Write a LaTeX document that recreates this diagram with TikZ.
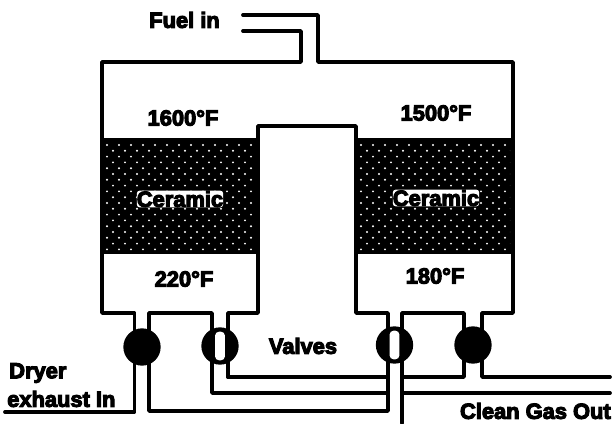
\documentclass[tikz,border=0pt]{standalone}
\usepackage{fontspec}
\setmainfont{Liberation Sans}[BoldFont={Liberation Sans Bold},BoldFeatures={FakeBold=5}]
\tikzset{
  wall/.style={line width=2.8pt,line join=round,line cap=round,black},
  lbl/.style={font=\fontsize{16.4}{16.4}\selectfont\bfseries,inner sep=0pt,text=black},
  valve/.style={circle,fill=black,minimum size=28pt,inner sep=0pt},
  slot/.style={rectangle,rounded corners=3pt,fill=white,minimum width=7.4pt,minimum height=21.5pt,inner sep=0pt},
  ceram/.style={fill=black},
  spot/.style={fill=white},
  halo/.style={lbl,fill=white,rounded corners=2pt,inner xsep=0pt,inner ysep=0.2pt}
}
\begin{document}
\begin{tikzpicture}[x=0.75pt,y=-0.75pt]
\useasboundingbox (0,0) rectangle (614,424);
\fill[white] (0,0) rectangle (614,424);
% ceramic beds
\foreach \xa/\xb in {102/258,356/513}{
  \fill[ceram] (\xa,138) rectangle (\xb,254);
  \begin{scope}
    \clip (\xa+3,141) rectangle (\xb-3,251);
    \foreach \r in {0,...,18}{
      \pgfmathsetmacro{\off}{mod(\r,2)*6}
      \foreach \c in {0,...,13}{
        \fill[spot] ({\xa+5+\off+\c*12},{145+\r*5.8}) circle (0.8pt);
      }
    }
  \end{scope}
}
% walls
\coordinate (fuelA) at (243,31);
\coordinate (fuelB) at (243,15);
\coordinate (dryer) at (5,412);
\coordinate (outA) at (610,377);
\coordinate (outB) at (610,393);
\coordinate (tail) at (402,423);
\draw[wall] (dryer) -- (134.5,412) -- (134.5,313) -- (102,313) -- (102,62) -- (301,62) -- (301,31) -- (fuelA);
\draw[wall] (fuelB) -- (318,15) -- (318,62) -- (513,62) -- (513,313) -- (482,313) -- (482,377) -- (outA);
\draw[wall] (228,377) -- (228,313) -- (258,313) -- (258,126) -- (356,126) -- (356,313) -- (388,313) -- (388,411) -- (149,411) -- (149,313) -- (212,313) -- (212,393) -- (388,393);
\draw[wall] (228,377) -- (388,377);
\draw[wall] (tail) -- (402,313) -- (464,313) -- (464,377) -- (402,377);
\draw[wall] (402,393) -- (outB);
% valves
\node[valve] (v1) at (142,347) {};
\node[valve] (v2) at (220,346) {};
\node[valve] (v3) at (394.5,345) {};
\node[valve] (v4) at (473,345) {};
\node[slot] (s2) at (220,346) {};
\node[slot] (s3) at (394.5,345) {};
% labels
\node[lbl] (fuel) at (184.5,20) {Fuel in};
\node[lbl] (t1) at (183,118) {1600°F};
\node[lbl] (t2) at (436,113) {1500°F};
\node[halo] (c1) at (180,199) {Ceramic};
\node[halo] (c2) at (436,198) {Ceramic};
\node[lbl] (t3) at (184,279) {220°F};
\node[lbl] (t4) at (435,276) {180°F};
\node[lbl] (valves) at (303,346) {Valves};
\node[lbl,anchor=west] (dry1) at (9,373) {Dryer};
\node[lbl,anchor=west] (dry2) at (7,399) {exhaust In};
\node[lbl,anchor=east] (clean) at (611,411) {Clean Gas Out};
\end{tikzpicture}
\end{document}
